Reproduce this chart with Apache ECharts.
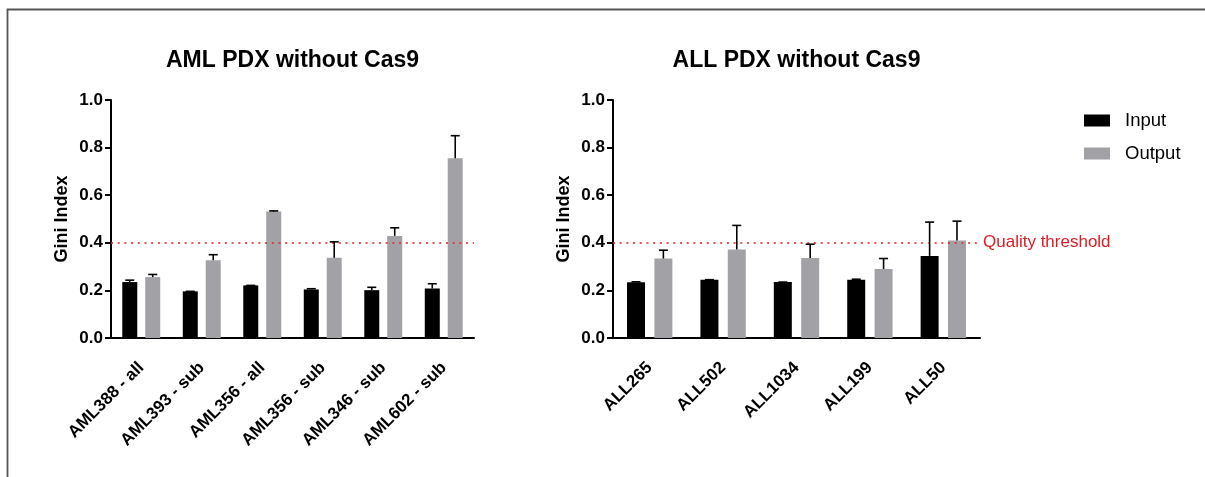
<!DOCTYPE html>
<html>
<head>
<meta charset="utf-8">
<script src="https://cdn.jsdelivr.net/npm/echarts@6/dist/echarts.min.js"></script>
<style>
  html, body { margin: 0; padding: 0; background: #fff; }
  #chart { width: 1205px; height: 477px; }
</style>
</head>
<body>
<div id="chart"></div>
<script>
// Gini index of sgRNA distribution, input vs output, per PDX sample
const amlCategories = ['AML388 - all', 'AML393 - sub', 'AML356 - all', 'AML356 - sub', 'AML346 - sub', 'AML602 - sub'];
const amlInput      = [0.235, 0.196, 0.221, 0.204, 0.201, 0.208];
const amlInputSd    = [0.008, 0.000, 0.000, 0.003, 0.012, 0.020];
const amlOutput     = [0.256, 0.327, 0.531, 0.337, 0.429, 0.755];
const amlOutputSd   = [0.011, 0.023, 0.003, 0.067, 0.034, 0.095];

const allCategories = ['ALL265', 'ALL502', 'ALL1034', 'ALL199', 'ALL50'];
const allInput      = [0.234, 0.245, 0.235, 0.245, 0.345];
const allInputSd    = [0.002, 0.000, 0.000, 0.002, 0.142];
const allOutput     = [0.334, 0.372, 0.336, 0.290, 0.410];
const allOutputSd   = [0.035, 0.101, 0.058, 0.044, 0.081];

const yTicks = [0, 0.2, 0.4, 0.6, 0.8, 1.0];
const qualityThreshold = 0.4;

const FONT = '"Liberation Sans", Arial, Helvetica, sans-serif';
const INPUT_COLOR = '#000000';
const OUTPUT_COLOR = '#a2a2a6';
const THRESH_COLOR = '#e01a22';
const THRESH_LINE_COLOR = 'rgba(230, 40, 50, 0.8)';

const panels = [
  { title: 'AML PDX without Cas9', cats: amlCategories, inp: amlInput, inpSd: amlInputSd, out: amlOutput, outSd: amlOutputSd,
    grid: { left: 111, right: 731, top: 100, bottom: 139 }, barWidth: 15, gapPct: 53, label: false },
  { title: 'ALL PDX without Cas9', cats: allCategories, inp: allInput, inpSd: allInputSd, out: allOutput, outSd: allOutputSd,
    grid: { left: 613, right: 225, top: 100, bottom: 139 }, barWidth: 18, gapPct: 52, label: true }
];

const W = 1205;
const grids = [], xAxes = [], yAxes = [], series = [], graphics = [];

// Upper error bar with a cap, shifted to sit over its bar in the group
function errorBarRenderer(offset, capHalf) {
  return function (params, api) {
    const idx = api.value(0), val = api.value(1), sd = api.value(2);
    const base = api.coord([idx, val]);
    const top = api.coord([idx, val + sd]);
    const x = base[0] + offset;
    const style = { stroke: '#000', lineWidth: 1.6, fill: null };
    return {
      type: 'group',
      children: [
        { type: 'line', shape: { x1: x, y1: base[1], x2: x, y2: top[1] }, style: style },
        { type: 'line', shape: { x1: x - capHalf, y1: top[1], x2: x + capHalf, y2: top[1] }, style: style }
      ]
    };
  };
}

panels.forEach(function (p, i) {
  grids.push(Object.assign({ containLabel: false }, p.grid));
  xAxes.push({
    type: 'category', gridIndex: i, data: p.cats,
    axisLine: { lineStyle: { color: '#000', width: 2 } },
    axisTick: { alignWithLabel: true, length: 7, lineStyle: { color: '#000', width: 2 } },
    axisLabel: { rotate: 45, margin: 27, color: '#000', fontFamily: FONT, fontWeight: 'bold', fontSize: 17, interval: 0 }
  });
  yAxes.push({
    type: 'value', gridIndex: i, min: yTicks[0], max: yTicks[yTicks.length - 1], interval: 0.2,
    name: 'Gini Index', nameLocation: 'middle', nameGap: 40,
    nameTextStyle: { color: '#000', fontFamily: FONT, fontWeight: 'bold', fontSize: 18 },
    axisLine: { show: true, lineStyle: { color: '#000', width: 2 } },
    axisTick: { show: true, length: 6, lineStyle: { color: '#000', width: 2 } },
    axisLabel: { margin: 8, color: '#000', fontFamily: FONT, fontWeight: 'bold', fontSize: 17,
                 formatter: function (v) { return v.toFixed(1); } },
    splitLine: { show: false }
  });

  const gapPx = p.barWidth * p.gapPct / 100;
  const off = (p.barWidth + gapPx) / 2;

  series.push({
    name: 'Input', type: 'bar', xAxisIndex: i, yAxisIndex: i, data: p.inp,
    barWidth: p.barWidth, barGap: p.gapPct + '%', itemStyle: { color: INPUT_COLOR },
    markLine: {
      silent: true, symbol: 'none',
      lineStyle: { color: THRESH_LINE_COLOR, type: [2, 4.7], width: 2, opacity: 1 },
      label: p.label
        ? { show: true, position: 'end', distance: 3, formatter: 'Quality threshold', color: THRESH_COLOR, opacity: 1,
            fontFamily: FONT, fontSize: 17 }
        : { show: false },
      emphasis: { disabled: true },
      data: [{ yAxis: qualityThreshold }]
    }
  });
  series.push({
    name: 'Output', type: 'bar', xAxisIndex: i, yAxisIndex: i, data: p.out,
    barWidth: p.barWidth, barGap: p.gapPct + '%', itemStyle: { color: OUTPUT_COLOR }
  });
  series.push({
    type: 'custom', xAxisIndex: i, yAxisIndex: i, z: 5, silent: true,
    renderItem: errorBarRenderer(-off, 4.5),
    data: p.inp.map(function (v, k) { return [k, v, p.inpSd[k]]; })
  });
  series.push({
    type: 'custom', xAxisIndex: i, yAxisIndex: i, z: 5, silent: true,
    renderItem: errorBarRenderer(off, 4.5),
    data: p.out.map(function (v, k) { return [k, v, p.outSd[k]]; })
  });

  // panel title centred over its plot area
  const cx = (p.grid.left + (W - p.grid.right)) / 2;
  graphics.push({
    type: 'text', x: cx, y: 61,
    style: { text: p.title, fill: '#000', font: 'bold 23px ' + FONT, textAlign: 'center', textVerticalAlign: 'middle' }
  });
});

// figure frame (top and left edges)
graphics.push({
  type: 'rect', z: -1,
  shape: { x: 7.5, y: 9.5, width: 1400, height: 700 },
  style: { fill: null, stroke: '#555', lineWidth: 1.8 }
});

const chart = echarts.init(document.getElementById('chart'), null, { renderer: 'canvas' });
chart.setOption({
  animation: false,
  backgroundColor: '#fff',
  grid: grids,
  xAxis: xAxes,
  yAxis: yAxes,
  legend: {
    data: ['Input', 'Output'], orient: 'vertical', left: 1079, top: 106,
    icon: 'rect', itemWidth: 26, itemHeight: 12, itemGap: 14,
    textStyle: { color: '#000', fontFamily: FONT, fontSize: 18.5, padding: [0, 0, 0, 10] }
  },
  graphic: graphics,
  series: series
});
</script>
</body>
</html>
